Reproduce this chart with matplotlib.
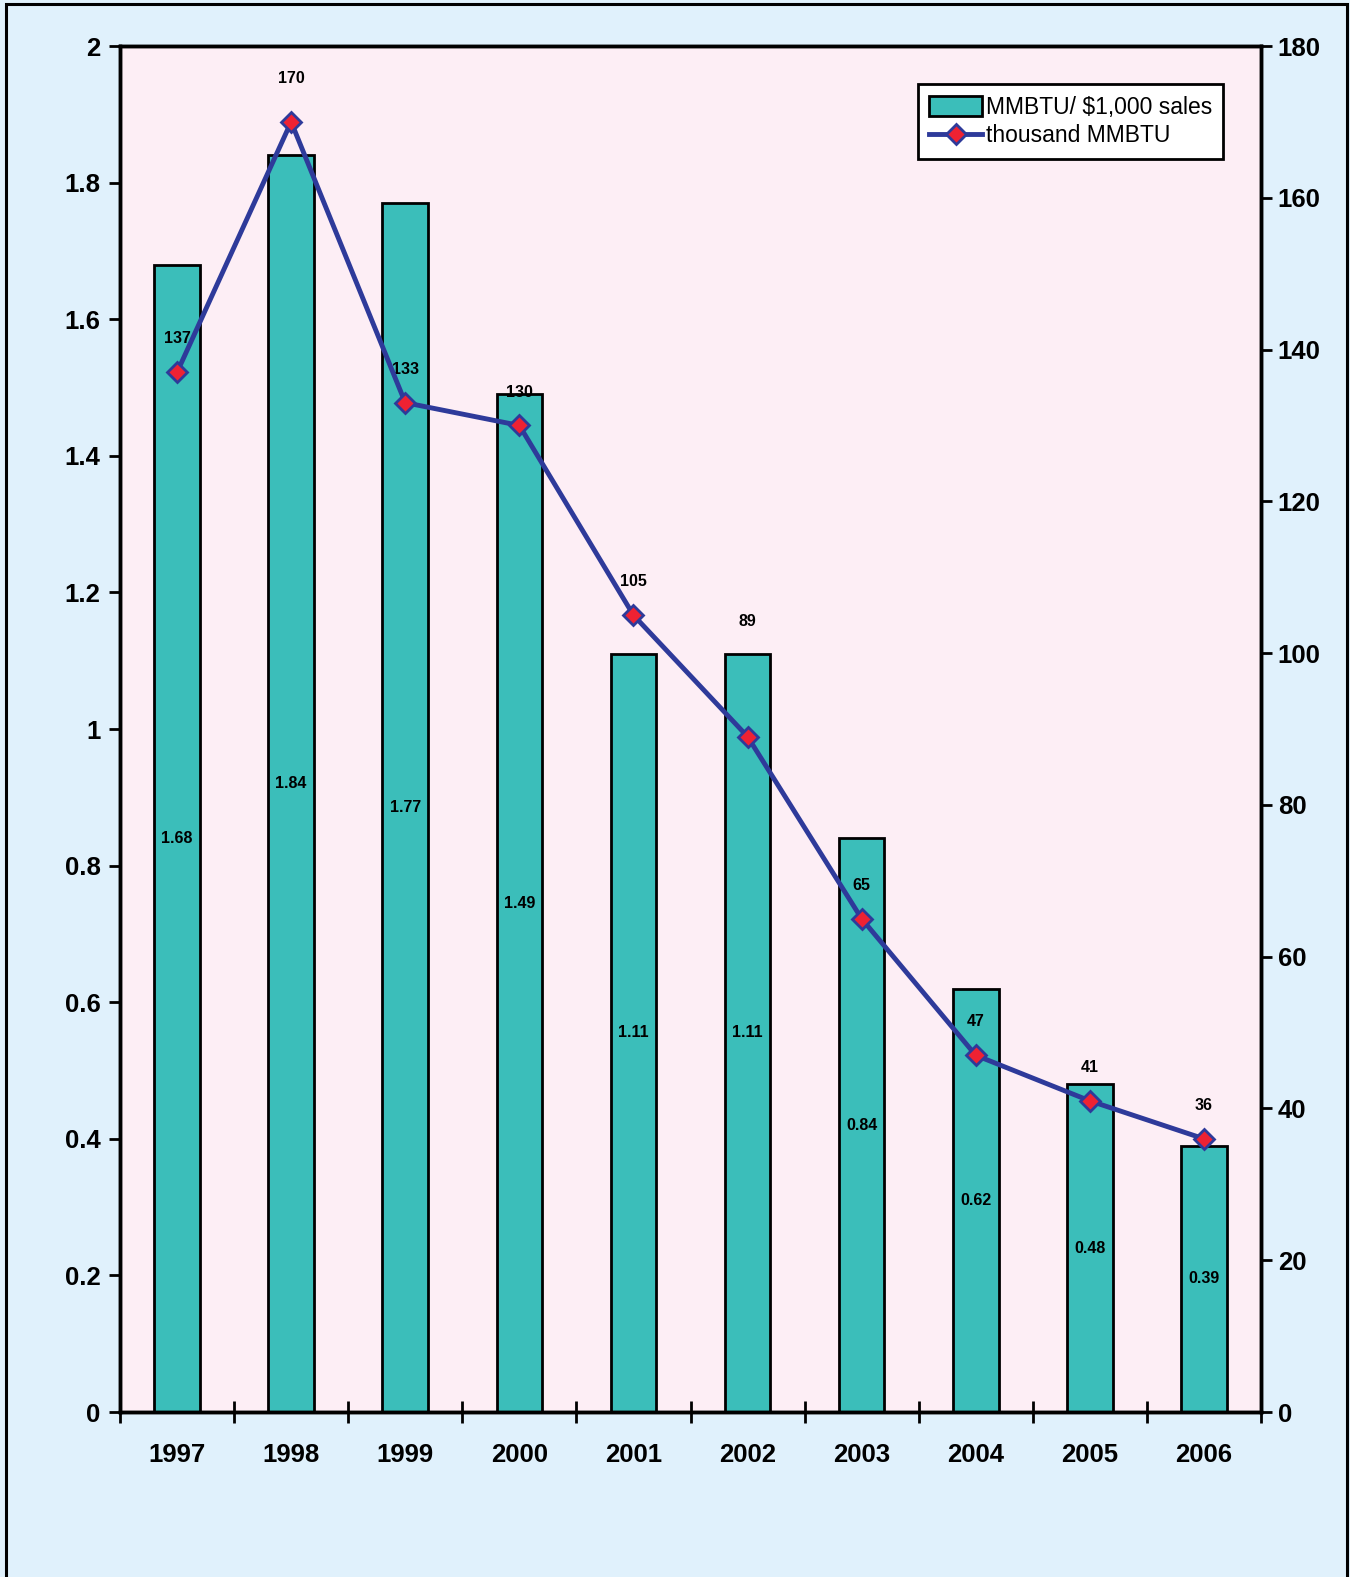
import matplotlib.pyplot as plt
from matplotlib.patches import Rectangle
from matplotlib.lines import Line2D
import numpy as np

years = ['1997', '1998', '1999', '2000', '2001', '2002', '2003', '2004', '2005', '2006']
intensity = [1.68, 1.84, 1.77, 1.49, 1.11, 1.11, 0.84, 0.62, 0.48, 0.39]   # MMBTU/ $1,000 sales
energy = [137, 170, 133, 130, 105, 89, 65, 47, 41, 36]                       # thousand MMBTU

# label offsets above the markers (points)
label_dy = [24, 31, 24, 24, 24, 83, 24, 24, 24, 24]

teal = '#3BBEBA'
navy = '#2E3A9A'
red = '#EE2233'
narrow = ['Liberation Sans Narrow', 'Liberation Sans', 'DejaVu Sans']

fig = plt.figure(figsize=(13.5, 15.77), dpi=100)
fig.patch.set_facecolor('#E0F1FC')
fig.patches.append(Rectangle((6 / 1350, -0.05), 1341 / 1350, 1.05 - 4 / 1577,
                             transform=fig.transFigure, fill=False,
                             edgecolor='black', linewidth=2.2))

ax = fig.add_axes([120 / 1350, 1 - 1412 / 1577, 1141 / 1350, 1366 / 1577])
ax.set_facecolor('#FDEEF5')
x = np.arange(len(years))

ax.bar(x, intensity, width=0.4, color=teal, edgecolor='black', linewidth=2, zorder=2)
for xi, v in zip(x, intensity):
    ax.text(xi, v / 2, f'{v:.2f}', ha='center', va='center', fontsize=11.5,
            fontweight='bold', family=narrow, zorder=5)

ax.set_xlim(-0.5, len(years) - 0.5)
ax.set_ylim(0, 2)
ax.set_yticks(np.arange(0, 2.01, 0.2))
ax.set_yticklabels(['0', '0.2', '0.4', '0.6', '0.8', '1', '1.2', '1.4', '1.6', '1.8', '2'])
ax.set_xticks(np.arange(-0.5, len(years), 1))
ax.set_xticklabels([])
ax.set_xticks(x, minor=True)
ax.set_xticklabels(years, minor=True)
ax.tick_params(axis='x', which='major', direction='inout', length=16, width=2)
ax.tick_params(axis='x', which='minor', length=0, pad=22)
ax.tick_params(axis='y', direction='out', length=8, width=2, pad=6)
for lbl in ax.get_yticklabels() + ax.get_xticklabels(minor=True):
    lbl.set_fontsize(18.5)
    lbl.set_fontweight('bold')
    lbl.set_family(narrow)
for s in ax.spines.values():
    s.set_linewidth(2.5)

ax2 = ax.twinx()
ax2.plot(x, energy, color=navy, linewidth=3.5, marker='D', markersize=10,
         markerfacecolor=red, markeredgecolor=navy, markeredgewidth=2, zorder=4)
for xi, v, dy in zip(x, energy, label_dy):
    ax2.annotate(str(v), (xi, v), xytext=(0, dy), textcoords='offset points',
                 ha='center', va='center', fontsize=11.5, fontweight='bold', family=narrow)
ax2.set_ylim(0, 180)
ax2.set_yticks(np.arange(0, 181, 20))
ax2.tick_params(axis='y', direction='out', length=8, width=2, pad=4)
for lbl in ax2.get_yticklabels():
    lbl.set_fontsize(18.5)
    lbl.set_fontweight('bold')
    lbl.set_family(narrow)
for s in ax2.spines.values():
    s.set_linewidth(2.5)

handles = [Rectangle((0, 0), 1, 1, facecolor=teal, edgecolor='black', linewidth=2),
           Line2D([], [], color=navy, linewidth=3.5, marker='D', markersize=10,
                  markerfacecolor=red, markeredgecolor=navy, markeredgewidth=2)]
leg = ax2.legend(handles, ['MMBTU/ $1,000 sales', 'thousand MMBTU'],
                 loc='upper right', bbox_to_anchor=(0.967, 0.972), borderaxespad=0,
                 frameon=True, fancybox=False, framealpha=1, edgecolor='black',
                 borderpad=0.5, labelspacing=0.25, handlelength=2.3, handleheight=0.95,
                 handletextpad=0.15,
                 prop={'family': ['Liberation Sans', 'DejaVu Sans'], 'size': 16.5})
leg.get_frame().set_linewidth(2)

fig.savefig('out.png', dpi=100, facecolor=fig.get_facecolor())
